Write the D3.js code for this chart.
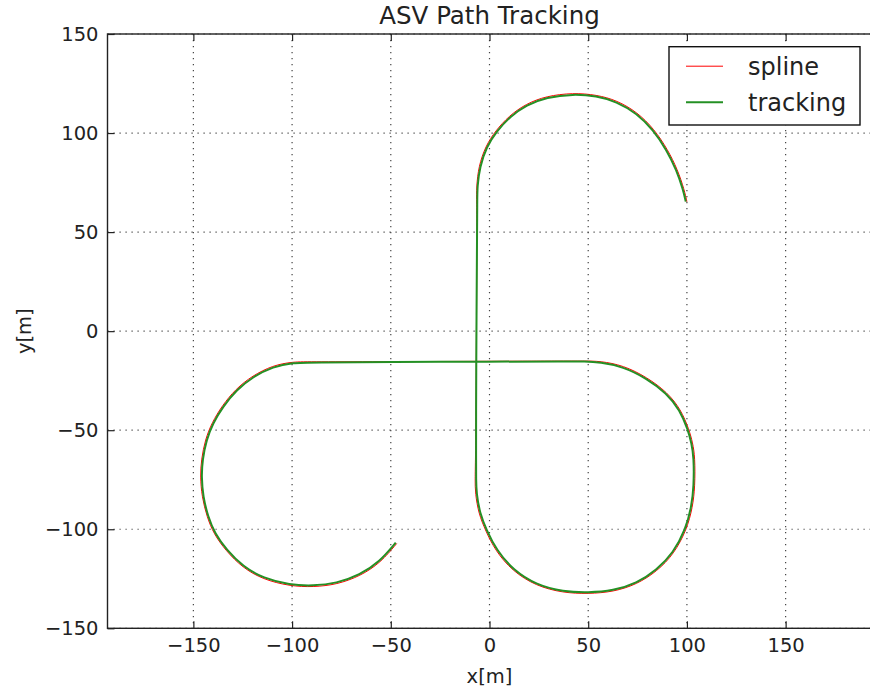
<!DOCTYPE html>
<html>
<head>
<meta charset="utf-8">
<script src="https://cdn.jsdelivr.net/npm/d3@7/dist/d3.min.js"></script>
<style>
  body { margin: 0; background: #fff; }
  text { font-family: "DejaVu Sans", sans-serif; fill: #222; }
  .axis path { display: none; }
  .axis line { stroke: #222; stroke-width: 1.2; }
  .axis text { font-size: 19.5px; }
  .grid line { stroke: #444; stroke-width: 1.2; stroke-dasharray: 1.2,4.8; }
</style>
</head>
<body>
<div id="chart"></div>
<script>
// tick values
var xTicks = [-150, -100, -50, 0, 50, 100, 150];
var yTicks = [-150, -100, -50, 0, 50, 100, 150];

// tracked path (green), [x, y] in metres
var tracking = [
  [-47.5,-106.8],[-55.6,-116.4],[-65.7,-123.1],[-77.5,-127.3],[-89.4,-128.6],[-101.2,-128.1],
  [-114.6,-124.7],[-124.8,-118.9],[-133.2,-110.4],[-139.2,-102.0],[-142.6,-93.6],[-145.1,-83.5],
  [-145.9,-73.4],[-145.4,-65.0],[-143.4,-54.9],[-140.1,-46.5],[-135.0,-38.1],[-128.2,-29.7],
  [-119.8,-23.0],[-109.6,-17.9],[-99.5,-15.9],[-90,-15.8],[-50,-15.6],[0,-15.4],[40,-15.3],[48,-15.3],
  [55.9,-15.7],[67.7,-17.9],[79.5,-23.8],[89.7,-31.3],[96.4,-39.8],[100.6,-49.9],[102.3,-56.6],
  [103.5,-63.4],[103.5,-78.5],[102.3,-88.6],[99.4,-100.0],[93.0,-112.1],[84.6,-120.6],
  [74.5,-127.3],[62.7,-131.0],[50.0,-132.0],[37.3,-131.5],[23.8,-128.1],[12.0,-120.6],
  [3.5,-110.5],[-1.5,-100.4],[-4.9,-91.9],[-6.6,-81.8],[-6.8,-75],[-6.8,-65],
  [-6.8,-40],[-6.7,-15.4],[-6.5,20],[-6.3,50],[-6.2,65],[-6.2,72.9],
  [-4.9,83.0],[-1.5,93.1],[3.5,100.7],[10.3,108.3],[18.7,114.2],[28.9,118.1],[42.4,119.7],
  [54.2,118.7],[64.3,115.9],[74.5,110.0],[82.9,101.6],[89.7,91.5],[94.7,81.4],[98.1,71.3],[99.4,65.4]
];

// reference spline (red), sits a hair outside the tracked path on the bends
var spline = [
  [-47.0,-107.2],[-55.2,-116.9],[-65.4,-123.6],[-77.3,-127.9],[-89.3,-129.2],[-101.3,-128.7],
  [-114.8,-125.3],[-125.1,-119.4],[-133.6,-110.8],[-139.7,-102.3],[-143.1,-93.8],[-145.7,-83.6],
  [-146.5,-73.4],[-146.0,-64.9],[-144.0,-54.7],[-140.6,-46.2],[-135.5,-37.7],[-128.6,-29.2],
  [-120.1,-22.5],[-109.8,-17.3],[-99.5,-15.4],[-90,-15.5],[-50,-15.4],[0,-15.2],[40,-15.1],[48,-15.1],
  [56.0,-15.1],[67.9,-17.3],[79.8,-23.3],[90.1,-30.9],[96.9,-39.5],[101.1,-49.6],[102.9,-56.4],
  [104.1,-63.3],[104.1,-78.6],[102.9,-88.8],[99.9,-100.3],[93.4,-112.5],[85.0,-121.1],
  [74.7,-127.8],[62.8,-131.6],[50.0,-132.6],[37.2,-132.1],[23.5,-128.6],[11.6,-121.1],
  [3.0,-110.9],[-2.0,-100.7],[-5.5,-92.1],[-7.2,-81.9],[-7.3,-75],[-7.1,-65],
  [-6.8,-40],[-6.7,-15.4],[-6.5,20],[-6.4,50],[-6.5,65],[-6.6,72.9],
  [-5.5,83.2],[-2.0,93.4],[3.0,101.1],[9.9,108.7],[18.4,114.7],[28.7,118.7],[42.4,120.3],
  [54.3,119.3],[64.5,116.5],[74.9,110.5],[83.4,102.0],[90.2,91.8],[95.3,81.5],[98.7,71.3],[100.0,65.3]
];

var series = [
  { name: "spline", data: spline, color: "#ff0000", width: 1 },
  { name: "tracking", data: tracking, color: "#249024", width: 2 }
];

var W = 870, H = 694;
var plot = { left: 107.5, right: 871.5, top: 34, bottom: 628.3 };

var svg = d3.select("#chart").append("svg")
    .attr("width", W)
    .attr("height", H);

var x = d3.scaleLinear().domain([-193.5, 193.5]).range([plot.left, plot.right]);
var y = d3.scaleLinear().domain([-150, 150]).range([plot.bottom, plot.top]);

// grid
svg.append("g").attr("class", "grid")
    .selectAll("line").data(xTicks).enter()
    .append("line")
    .attr("x1", function(d){ return x(d) }).attr("x2", function(d){ return x(d) })
    .attr("y1", plot.top).attr("y2", plot.bottom);

svg.append("g").attr("class", "grid")
    .selectAll("line").data(yTicks).enter()
    .append("line")
    .attr("y1", function(d){ return y(d) }).attr("y2", function(d){ return y(d) })
    .attr("x1", plot.left).attr("x2", plot.right);

// axes, ticks pointing inward like matplotlib classic
var fmt = function(d){ return d3.format("")(d).replace("-", "\u2212") };

svg.append("g").attr("class", "axis")
    .attr("transform", "translate(0," + plot.bottom + ")")
    .call(d3.axisBottom(x).tickValues(xTicks).tickSizeInner(-7).tickSizeOuter(0).tickPadding(10).tickFormat(fmt));

svg.append("g").attr("class", "axis")
    .attr("transform", "translate(0," + plot.top + ")")
    .call(d3.axisTop(x).tickValues(xTicks).tickSizeInner(-7).tickSizeOuter(0).tickFormat(""));

svg.append("g").attr("class", "axis")
    .attr("transform", "translate(" + plot.left + ",0)")
    .call(d3.axisLeft(y).tickValues(yTicks).tickSizeInner(-7).tickSizeOuter(0).tickPadding(9).tickFormat(fmt));

svg.selectAll(".axis text").attr("fill", "#1a1a1a");

// paths (smoothed through the read points)
var line = d3.line()
    .x(function(d){ return x(d[0]) })
    .y(function(d){ return y(d[1]) })
    .curve(d3.curveBasis);

svg.selectAll(".series")
    .data(series).enter()
    .append("path")
    .attr("class", "series")
    .attr("d", function(d){ return line(d.data) })
    .attr("fill", "none")
    .attr("stroke", function(d){ return d.color })
    .attr("stroke-width", function(d){ return d.width })
    .attr("stroke-linejoin", "round");

// frame
svg.append("rect")
    .attr("x", plot.left).attr("y", plot.top)
    .attr("width", plot.right - plot.left).attr("height", plot.bottom - plot.top)
    .attr("fill", "none").attr("stroke", "#222").attr("stroke-width", 1.4);

// title and labels
svg.append("text")
    .attr("x", 489.5).attr("y", 24)
    .style("text-anchor", "middle").style("font-size", "24.5px")
    .text("ASV Path Tracking");

svg.append("text")
    .attr("x", 489.5).attr("y", 683)
    .style("text-anchor", "middle").style("font-size", "19.5px")
    .text("x[m]");

svg.append("text")
    .attr("transform", "translate(31," + y(0) + ") rotate(-90)")
    .style("text-anchor", "middle").style("font-size", "19.5px")
    .text("y[m]");

// legend
var legend = svg.append("g").attr("transform", "translate(669,46.7)");
legend.append("rect")
    .attr("width", 191).attr("height", 78.3)
    .attr("fill", "#fff").attr("stroke", "#111").attr("stroke-width", 1.4);

var item = legend.selectAll(".item")
    .data(series).enter()
    .append("g")
    .attr("transform", function(d, i){ return "translate(0," + (19.5 + i * 36) + ")" });

item.append("line")
    .attr("x1", 17).attr("x2", 54)
    .attr("stroke", function(d){ return d.color })
    .attr("stroke-width", function(d){ return d.width });

item.append("text")
    .attr("x", 79).attr("y", 8.5)
    .style("font-size", "24px")
    .text(function(d){ return d.name });
</script>
</body>
</html>
